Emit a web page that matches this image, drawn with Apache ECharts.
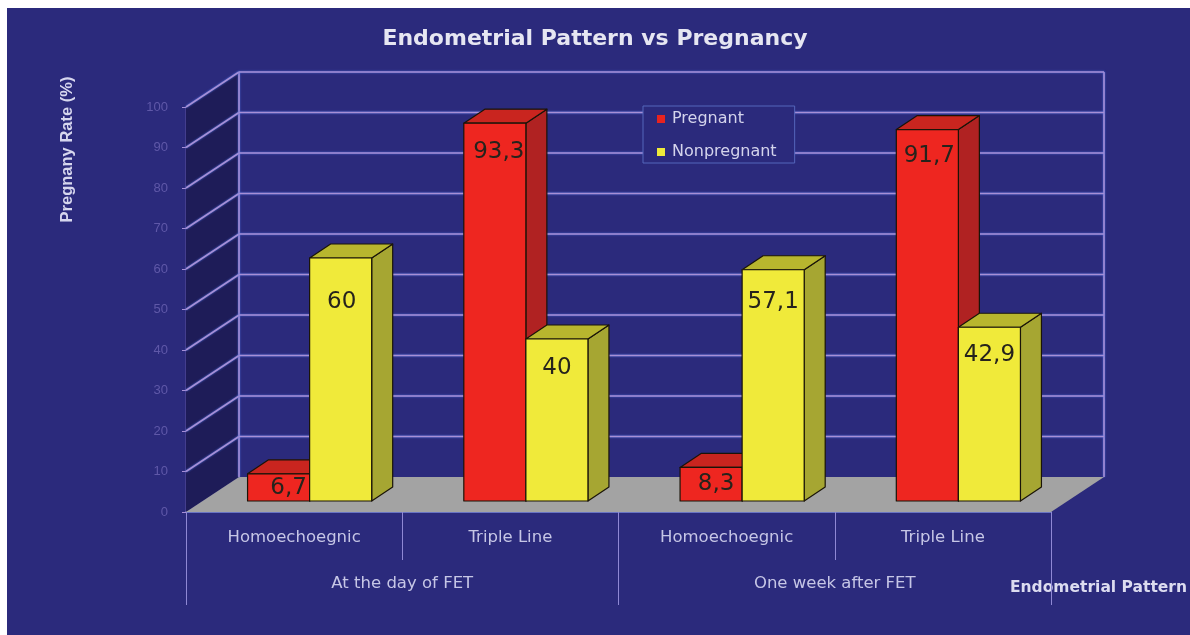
<!DOCTYPE html>
<html>
<head>
<meta charset="utf-8">
<script src="https://cdn.jsdelivr.net/npm/echarts@6/dist/echarts.min.js"></script>
<style>
html,body{margin:0;padding:0;background:#fff;width:1190px;height:635px;overflow:hidden}
#panel{position:absolute;left:7px;top:8px;right:0;bottom:0;background:#2b2a7c}
#chart{position:absolute;left:0;top:0;width:1190px;height:635px}
</style>
</head>
<body>
<div id="panel"></div>
<div id="chart"></div>
<script>
var patterns = ['Homoechoegnic', 'Triple Line', 'Homoechoegnic', 'Triple Line'];
var periods = ['At the day of FET', 'One week after FET'];
var pregnant = [6.7, 93.3, 8.3, 91.7];
var nonpregnant = [60, 40, 57.1, 42.9];
var yTicks = [0, 10, 20, 30, 40, 50, 60, 70, 80, 90, 100];

var FONT = '"DejaVu Sans", sans-serif';
var GRID = '#a78fd6';
var BACK = {x: 53, y: -35};      // wall depth in px
var SET = {x: 15.5, y: -11};     // bars stand this far behind the front edge
var DEPTH = {x: 21, y: -14};     // depth of one bar
var labelDrop = [[14, 29, 17, 26], [44, 29, 32, 28]];
var labelShift = [[10, 4, 5, 2], [1, 0, 0, 0]];

function frameItem(params, api) {
  var v = api.value(0);
  var p = api.coord([0, v]);
  var left = params.coordSys.x;
  var right = left + params.coordSys.width;
  var y = p[1];
  var kids = [];
  var line = function (x1, y1, x2, y2) {
    return {type: 'line', shape: {x1: x1, y1: y1, x2: x2, y2: y2},
      style: {stroke: GRID, lineWidth: 1.6, fill: null, shadowColor: '#4f74e6', shadowBlur: 2}};
  };
  var top = api.coord([0, 100])[1];
  var bottom = api.coord([0, 0])[1];
  if (params.dataIndex === 0) {
    kids.push({type: 'polygon', shape: {points: [[left, top], [left + BACK.x, top + BACK.y],
      [left + BACK.x, bottom + BACK.y], [left, bottom]]}, style: {fill: '#1e1c58'}});
    kids.push({type: 'polygon', shape: {points: [[left, bottom], [right, bottom],
      [right + BACK.x, bottom + BACK.y], [left + BACK.x, bottom + BACK.y]]}, style: {fill: '#a3a3a3'}});
    kids.push(line(left + BACK.x, top + BACK.y, left + BACK.x, bottom + BACK.y));
    kids.push(line(right + BACK.x, top + BACK.y, right + BACK.x, bottom + BACK.y));
  } else {
    kids.push(line(left, y, left + BACK.x, y + BACK.y));
    kids.push(line(left + BACK.x, y + BACK.y, right + BACK.x, y + BACK.y));
  }
  return {type: 'group', children: kids};
}

function barRenderer(seriesPos, front, topFace, side) {
  return function (params, api) {
    var i = api.value(0), v = api.value(1);
    var base = api.coord([i, 0]), tip = api.coord([i, v]);
    var w = api.size([1, 0])[0] * 0.287;
    var x0 = base[0] + SET.x + (seriesPos === 0 ? -w : 0);
    var x1 = x0 + w;
    var yb = base[1] + SET.y, yt = tip[1] + SET.y;
    var dx = DEPTH.x, dy = DEPTH.y;
    var edge = {stroke: '#1a1408', lineWidth: 1.2, lineJoin: 'round'};
    return {type: 'group', children: [
      {type: 'polygon', shape: {points: [[x1, yt], [x1 + dx, yt + dy], [x1 + dx, yb + dy], [x1, yb]]},
        style: Object.assign({fill: side}, edge)},
      {type: 'polygon', shape: {points: [[x0, yt], [x0 + dx, yt + dy], [x1 + dx, yt + dy], [x1, yt]]},
        style: Object.assign({fill: topFace}, edge)},
      {type: 'rect', shape: {x: x0, y: yt, width: w, height: yb - yt},
        style: Object.assign({fill: front}, edge)},
      {type: 'text', style: {
        text: String(v).replace('.', ','),
        x: (x0 + x1) / 2 + labelShift[seriesPos][i],
        y: yt + labelDrop[seriesPos][i],
        align: 'center', verticalAlign: 'middle',
        font: '23px ' + FONT, fill: '#26231c'}}
    ]};
  };
}

var axisColor = '#8f88d4';
var chart = echarts.init(document.getElementById('chart'), null, {renderer: 'canvas'});
chart.setOption({
  animation: false,
  backgroundColor: 'transparent',
  title: {
    text: 'Endometrial Pattern vs Pregnancy',
    left: 590, top: 23, textAlign: 'center',
    textStyle: {color: '#e6e6f2', fontFamily: FONT, fontWeight: 'bold', fontSize: 22}
  },
  legend: {
    orient: 'vertical', left: 643, top: 106,
    padding: [5, 18, 3, 14], itemGap: 17,
    itemWidth: 8, itemHeight: 8, icon: 'rect',
    data: ['Pregnant', 'Nonpregnant'],
    backgroundColor: '#2b2a7c',
    borderColor: '#5566bb', borderWidth: 1,
    textStyle: {color: '#d4d4ec', fontFamily: FONT, fontSize: 16, padding: [0, 0, 0, 2]},
    z: 20
  },
  grid: {left: 186, right: 139, top: 107, bottom: 123, containLabel: false},
  xAxis: [
    {
      type: 'category', data: patterns, position: 'bottom',
      axisLine: {show: true, lineStyle: {color: '#7f8fdc', width: 1.5}},
      axisTick: {show: true, length: 48, lineStyle: {color: axisColor}},
      axisLabel: {color: '#c6c6e6', fontFamily: FONT, fontSize: 16.5, margin: 17}
    },
    {
      type: 'category', data: periods, position: 'bottom',
      axisLine: {show: false},
      axisTick: {show: true, length: 93, lineStyle: {color: axisColor}},
      axisLabel: {color: '#c6c6e6', fontFamily: FONT, fontSize: 16.5, margin: 63},
      name: 'Endometrial Pattern', nameLocation: 'end', nameGap: -41,
      nameTextStyle: {color: '#dcdcf0', fontFamily: FONT, fontWeight: 'bold', fontSize: 15.5,
        padding: [68, 0, 0, 0], verticalAlign: 'top'}
    }
  ],
  yAxis: {
    type: 'value', min: 0, max: 100, interval: 10,
    axisLine: {show: true, lineStyle: {color: GRID, width: 1.4}},
    axisTick: {show: true, length: 4, lineStyle: {color: GRID}},
    axisLabel: {color: '#5f58a8', fontFamily: '"Liberation Sans", sans-serif', fontSize: 13, margin: 18,
      padding: [4, 0, 0, 0]},
    splitLine: {show: false},
    name: 'Pregnany Rate (%)', nameLocation: 'middle', nameGap: 110, nameRotate: 90,
    nameTextStyle: {color: '#d6d6ee', fontFamily: '"Liberation Sans", sans-serif', fontWeight: 'bold', fontSize: 16.5,
      padding: [0, 0, 0, 320]}
  },
  series: [
    {
      name: 'frame', type: 'custom', silent: true, z: 1,
      renderItem: frameItem,
      encode: {y: 0},
      data: yTicks.map(function (t) { return [t]; })
    },
    {
      name: 'Pregnant', type: 'custom', z: 3,
      itemStyle: {color: '#e8231f'},
      renderItem: barRenderer(0, '#ee2620', '#c9251f', '#b02222'),
      encode: {x: 0, y: 1},
      data: pregnant.map(function (v, i) { return [i, v]; })
    },
    {
      name: 'Nonpregnant', type: 'custom', z: 4,
      itemStyle: {color: '#eeea3a'},
      renderItem: barRenderer(1, '#f0ea3a', '#b8b62e', '#a6a632'),
      encode: {x: 0, y: 1},
      data: nonpregnant.map(function (v, i) { return [i, v]; })
    }
  ]
});
</script>
</body>
</html>
